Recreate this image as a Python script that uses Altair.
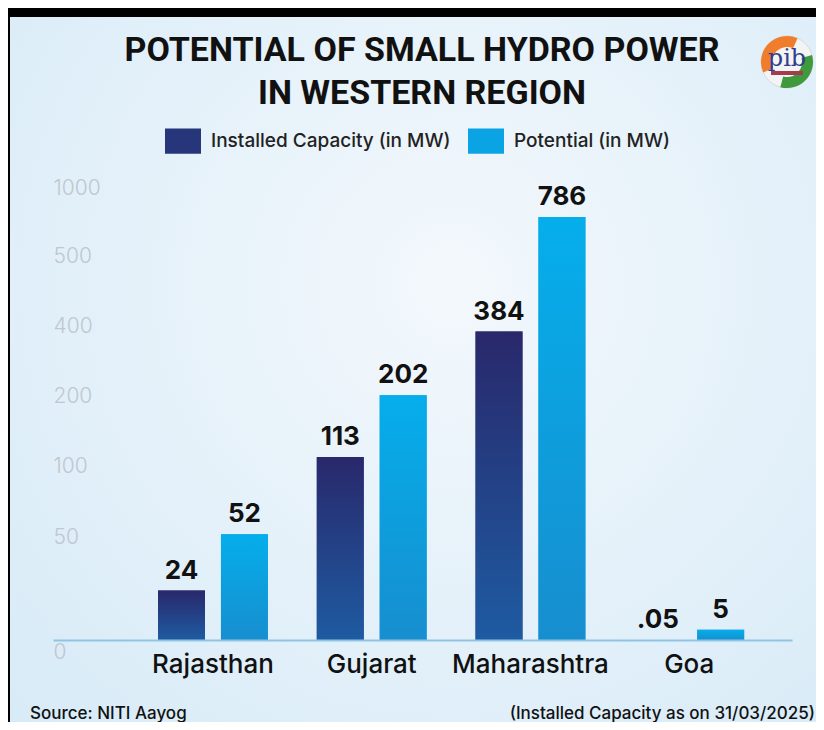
import altair as alt
import pandas as pd

states = ["Rajasthan", "Gujarat", "Maharashtra", "Goa"]
series_names = ["Installed Capacity (in MW)", "Potential (in MW)"]
installed = [24, 113, 384, 0.05]
potential = [52, 202, 786, 5]
installed_labels = ["24", "113", "384", ".05"]
potential_labels = ["52", "202", "786", "5"]
y_ticks = [0, 50, 100, 200, 400, 500, 1000]
title_lines = ["POTENTIAL OF SMALL HYDRO POWER", "IN WESTERN REGION"]
source_note = "Source: NITI Aayog"
date_note = "(Installed Capacity as on 31/03/2025)"
logo_text = "pib"

rows = []
for i, s in enumerate(states):
    rows.append({"state": s, "series": series_names[0], "value": installed[i], "label": installed_labels[i]})
    rows.append({"state": s, "series": series_names[1], "value": potential[i], "label": potential_labels[i]})
df = pd.DataFrame(rows)

W, H = 739, 460
PL, PT, PR, PB = 45, 172, 24, 82
FONT = "Inter"

yscale = alt.Scale(domain=y_ticks, range=[460, 357, 286, 216, 146, 76, 8], nice=False, zero=False)
xscale = alt.Scale(domain=states, paddingInner=0.308, paddingOuter=0.4816, align=0.687)
xoff = alt.Scale(domain=series_names, paddingInner=0.254, paddingOuter=0)

x_enc = alt.X("state:N", scale=xscale, sort=states,
              axis=alt.Axis(title=None, labelAngle=0, ticks=False, domain=True, zindex=1,
                            domainColor="#8ec5e3", domainWidth=2, labelPadding=11,
                            labelFontSize=26, labelFont=FONT, labelFontWeight=500,
                            labelColor="#111111"))
y_enc = alt.Y("value:Q", scale=yscale,
              axis=alt.Axis(title=None, values=y_ticks, format="d", grid=False, domain=False, zindex=1,
                            ticks=False, tickSize=0, labelPadding=0, labelAlign="left",
                            labelFontSize=21, labelFont=FONT, labelFontWeight=300,
                            labelColor="#bfc7cf", labelOverlap=False,
                            labelOffset={"condition": {"test": "datum.value === 0", "value": 12}, "value": 0}))
xo_enc = alt.XOffset("series:N", scale=xoff, sort=series_names)

one = pd.DataFrame({"k": [0]})

bg = alt.Chart(one).mark_rect(
    fill=alt.RadialGradient(gradient="radial", x1=0.55, y1=0.4, x2=0.55, y2=0.4, r1=0, r2=0.8,
                            stops=[alt.GradientStop(offset=0, color="#f3f8fc"),
                                   alt.GradientStop(offset=1, color="#d6eaf7")])
).encode(x=alt.value(-PL), x2=alt.value(W + PR), y=alt.value(-PT), y2=alt.value(H + PB))

frame_top = alt.Chart(one).mark_rect(color="black").encode(
    x=alt.value(-PL), x2=alt.value(W + PR), y=alt.value(-PT), y2=alt.value(-PT + 9))
frame_left = alt.Chart(one).mark_rect(color="black").encode(
    x=alt.value(-PL), x2=alt.value(-PL + 2), y=alt.value(-PT), y2=alt.value(H + PB))

# small emblem (top right)
LX, LY = 734, -118
logo_bg = alt.Chart(one).mark_arc(radius=26, radius2=0, theta=0, theta2=6.2832,
                                  color="#f4f4f4", stroke="#d9d9d9", strokeWidth=1).encode(
    x=alt.value(LX), y=alt.value(LY))
logo_or = alt.Chart(one).mark_arc(radius=26, radius2=15, theta=4.3, theta2=6.7,
                                  color="#f07d2c").encode(x=alt.value(LX), y=alt.value(LY))
logo_gr = alt.Chart(one).mark_arc(radius=26, radius2=15, theta=1.3, theta2=3.4,
                                  color="#3e9a3c").encode(x=alt.value(LX), y=alt.value(LY))
logo_tx = alt.Chart(pd.DataFrame({"t": [logo_text]})).mark_text(
    fontSize=24, font="DejaVu Serif", color="#2f3f8f", baseline="middle", align="center"
).encode(x=alt.value(LX), y=alt.value(LY - 3), text="t:N")
logo_bar = alt.Chart(one).mark_rect(color="#a33d4d").encode(
    x=alt.value(LX - 16), x2=alt.value(LX + 16), y=alt.value(LY + 9), y2=alt.value(LY + 13))

title = alt.Chart(pd.DataFrame({"t": ["\n".join(title_lines)]})).mark_text(
    align="center", baseline="top", fontSize=34, font="Roboto", fontWeight="bold",
    lineHeight=43, lineBreak="\n", color="#111111"
).encode(x=alt.value(369), y=alt.value(-146), text="t:N")

solid = alt.Chart(df).mark_bar().encode(
    x=x_enc, xOffset=xo_enc, y=y_enc,
    color=alt.Color("series:N", sort=series_names,
                    scale=alt.Scale(domain=series_names, range=["#27357a", "#0aa3e3"]),
                    legend=alt.Legend(title=None, orient="none", legendX=112, legendY=-57,
                                      direction="horizontal", symbolType="M-1,-0.7H1V0.7H-1Z",
                                      symbolSize=1296, symbolStrokeWidth=0, labelFontSize=19,
                                      labelFont=FONT, labelFontWeight=500, labelColor="#222222",
                                      labelOffset=10, columnPadding=17, symbolOpacity=1,
                                      labelLimit=0)),
)

grad_inst = alt.Chart(df).transform_filter(alt.datum.series == series_names[0]).mark_bar(
    fill=alt.LinearGradient(gradient="linear", x1=0, y1=0, x2=0, y2=1,
                            stops=[alt.GradientStop(offset=0, color="#29286b"),
                                   alt.GradientStop(offset=1, color="#1e5ba2")])
).encode(x=alt.X("state:N", scale=xscale, sort=states), xOffset=xo_enc, y=alt.Y("value:Q", scale=yscale))

grad_pot = alt.Chart(df).transform_filter(alt.datum.series == series_names[1]).mark_bar(
    fill=alt.LinearGradient(gradient="linear", x1=0, y1=0, x2=0, y2=1,
                            stops=[alt.GradientStop(offset=0, color="#05aeeb"),
                                   alt.GradientStop(offset=1, color="#178ecf")])
).encode(x=alt.X("state:N", scale=xscale, sort=states), xOffset=xo_enc, y=alt.Y("value:Q", scale=yscale))

labels = alt.Chart(df).mark_text(baseline="bottom", dy=-7, fontSize=26, fontWeight="bold",
                                 font=FONT, color="#111111").encode(
    x=alt.X("state:N", scale=xscale, sort=states), xOffset=xo_enc,
    y=alt.Y("value:Q", scale=yscale), text="label:N")

src = alt.Chart(pd.DataFrame({"t": [source_note]})).mark_text(
    align="left", baseline="middle", fontSize=17, font=FONT, fontWeight=500, color="#111111"
).encode(x=alt.value(-23), y=alt.value(534), text="t:N")
note = alt.Chart(pd.DataFrame({"t": [date_note]})).mark_text(
    align="right", baseline="middle", fontSize=17, font=FONT, fontWeight=500, color="#111111"
).encode(x=alt.value(762), y=alt.value(534), text="t:N")

chart = alt.layer(bg, frame_top, frame_left, logo_bg, logo_or, logo_gr, logo_tx, logo_bar,
                  title, solid, grad_inst, grad_pot, labels, src, note).properties(
    width=W, height=H,
    padding={"left": PL, "top": PT, "right": PR, "bottom": PB},
    autosize=alt.AutoSizeParams(type="none"),
    background="#e2f0f9",
).configure_view(stroke=None)

chart.save("out.html", embed_options={"renderer": "svg", "actions": False})
